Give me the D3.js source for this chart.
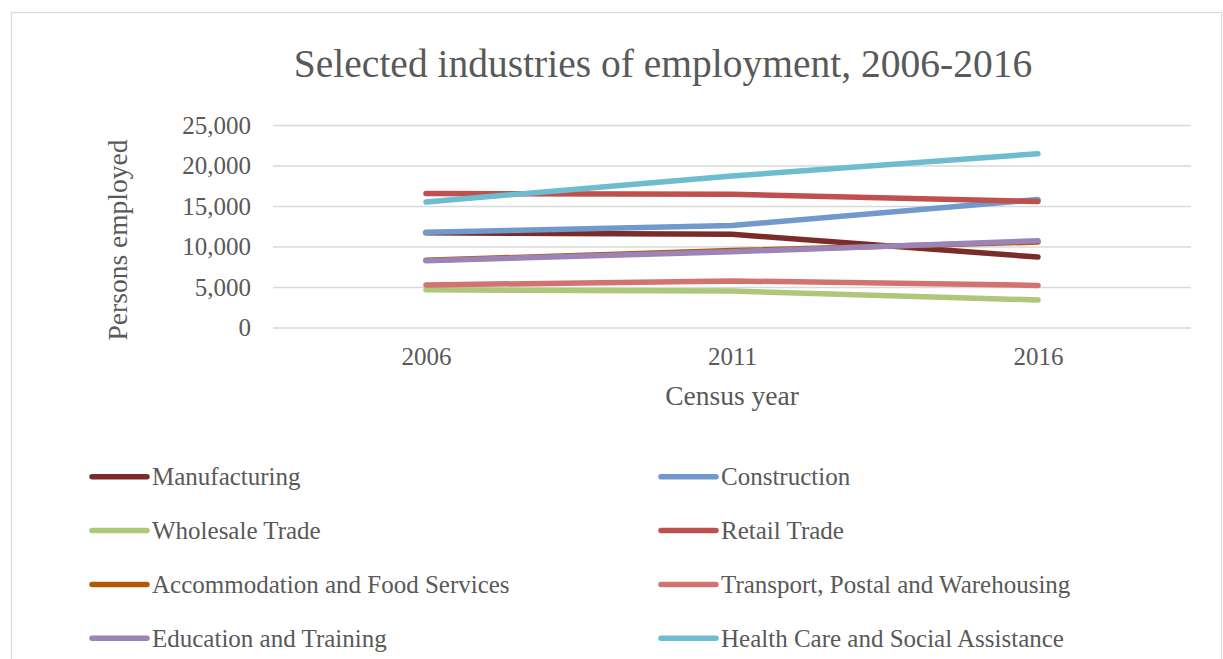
<!DOCTYPE html>
<html>
<head>
<meta charset="utf-8">
<script src="https://cdn.jsdelivr.net/npm/d3@7"></script>
<style>
  html, body { margin: 0; padding: 0; background: #fff; }
  svg { display: block; }
  text { font-family: "Liberation Serif", "Times New Roman", serif; fill: #595959; }
</style>
</head>
<body>
<script>
// Census years (categories)
const years = ["2006", "2011", "2016"];

// Persons employed per industry, by census year
const manufacturing = [11700, 11500, 8700];
const construction = [11750, 12600, 15800];
const wholesaleTrade = [4650, 4500, 3400];
const retailTrade = [16550, 16450, 15550];
const accommodationFood = [8300, 9500, 10550];
const transportPostal = [5250, 5750, 5200];
const educationTraining = [8250, 9350, 10700];
const healthCare = [15500, 18700, 21450];

const seriesNames = [
  "Manufacturing", "Construction", "Wholesale Trade", "Retail Trade",
  "Accommodation and Food Services", "Transport, Postal and Warehousing",
  "Education and Training", "Health Care and Social Assistance"
];
const seriesValues = [
  manufacturing, construction, wholesaleTrade, retailTrade,
  accommodationFood, transportPostal, educationTraining, healthCare
];
const seriesColors = [
  "#7B2C2A", "#7099CC", "#ADC878", "#C0504D",
  "#B65708", "#D27372", "#9B84B8", "#6DBCD0"
];

// Y-axis tick values
const yTicks = [0, 5000, 10000, 15000, 20000, 25000];

const W = 1223, H = 659;
const plot = { left: 273, right: 1191, top: 125, bottom: 327.5 };

const svg = d3.select("body").append("svg")
  .attr("width", W).attr("height", H);

svg.append("rect").attr("width", W).attr("height", H).attr("fill", "#fff");

// Chart area border
svg.append("rect")
  .attr("x", 11.5).attr("y", 12.5)
  .attr("width", 1210).attr("height", 700)
  .attr("fill", "none").attr("stroke", "#d9d9d9").attr("stroke-width", 1.2);

const x = d3.scalePoint().domain(years).range([plot.left, plot.right]).padding(0.5);
const y = d3.scaleLinear().domain([0, 25000]).range([plot.bottom, plot.top]);

// Title
svg.append("text")
  .attr("x", 663).attr("y", 77)
  .attr("text-anchor", "middle")
  .style("font-size", "39.5px")
  .text("Selected industries of employment, 2006-2016");

// Gridlines + y tick labels
const yAxis = d3.axisLeft(y)
  .tickValues(yTicks)
  .tickSize(-(plot.right - plot.left))
  .tickPadding(22)
  .tickFormat(d3.format(","));
const gy = svg.append("g")
  .attr("transform", `translate(${plot.left},0)`)
  .call(yAxis);
gy.select(".domain").remove();
gy.selectAll(".tick line").attr("stroke", "#d9d9d9").attr("stroke-width", 1.5);
gy.selectAll(".tick text")
  .style("font-size", "25px")
  .style("font-family", "'Liberation Serif', serif")
  .attr("fill", "#595959");

// X axis labels
const xAxis = d3.axisBottom(x).tickSize(0).tickPadding(20);
const gx = svg.append("g")
  .attr("transform", `translate(0,${plot.bottom})`)
  .call(xAxis);
gx.select(".domain").remove();
gx.selectAll(".tick text")
  .style("font-size", "25px")
  .style("font-family", "'Liberation Serif', serif")
  .attr("fill", "#595959");

// Axis titles
svg.append("text")
  .attr("transform", "translate(127,240) rotate(-90)")
  .attr("text-anchor", "middle")
  .style("font-size", "27.5px")
  .text("Persons employed");

svg.append("text")
  .attr("x", 732).attr("y", 405)
  .attr("text-anchor", "middle")
  .style("font-size", "27.5px")
  .text("Census year");

// Series lines
const line = d3.line()
  .x((d, i) => x(years[i]))
  .y(d => y(d));

svg.append("g").selectAll("path")
  .data(seriesValues)
  .join("path")
  .attr("d", d => line(d))
  .attr("fill", "none")
  .attr("stroke", (d, i) => seriesColors[i])
  .attr("stroke-width", 5.5)
  .attr("stroke-linecap", "round")
  .attr("stroke-linejoin", "round");

// Legend (two columns, four rows)
const legendRows = [476.7, 530.5, 584.5, 638.3];
const legendCols = [92, 661];
const lg = svg.append("g").selectAll("g")
  .data(seriesNames)
  .join("g")
  .attr("transform", (d, i) => `translate(${legendCols[i % 2]},${legendRows[Math.floor(i / 2)]})`);
lg.append("line")
  .attr("x1", 0).attr("x2", 55)
  .attr("y1", 0).attr("y2", 0)
  .attr("stroke", (d, i) => seriesColors[i])
  .attr("stroke-width", 5.5)
  .attr("stroke-linecap", "round");
lg.append("text")
  .attr("x", 60).attr("y", 0).attr("dy", "0.33em")
  .style("font-size", "25px")
  .text(d => d);
</script>
</body>
</html>
